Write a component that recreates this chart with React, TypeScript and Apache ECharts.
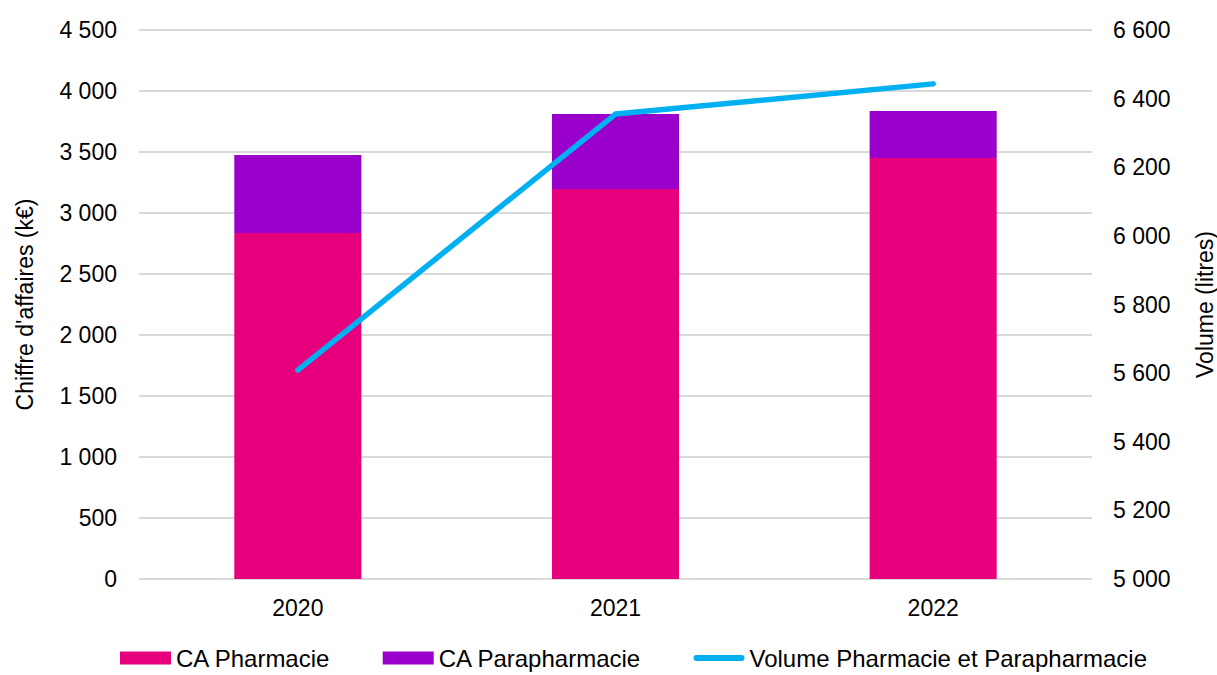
import React, { useEffect, useRef } from "react";
import * as echarts from "echarts";

const years = ["2020", "2021", "2022"];
const caPharmacie = [2836, 3197, 3451];
const caParapharmacie = [639, 614, 385];
const volume = [5609, 6355, 6443];

const fmt = (v: number) => String(v).replace(/\B(?=(\d{3})+(?!\d))/g, " ");
const FONT = "Liberation Sans, Arial, sans-serif";
const FS = 23;

export default function App() {
  const ref = useRef<HTMLDivElement>(null);
  useEffect(() => {
    const chart = echarts.init(ref.current!, undefined, { renderer: "svg" });
    chart.setOption({
      animation: false,
      textStyle: { fontFamily: FONT },
      grid: { left: 139, right: 125, top: 30, bottom: 96, outerBoundsMode: "none", containLabel: false },
      legend: {
        bottom: 0,
        left: 115,
        itemWidth: 51,
        itemHeight: 13,
        itemGap: 52,
        textStyle: { fontSize: 24, color: "#000", fontFamily: FONT },
        data: [
          { name: "CA Pharmacie", icon: "rect" },
          { name: "CA Parapharmacie", icon: "rect" },
          {
            name: "Volume Pharmacie et Parapharmacie",
            icon: "path://M0,0 M51,13 M3,3.5 L48,3.5 A3,3 0 0 1 48,9.5 L3,9.5 A3,3 0 0 1 3,3.5 Z",
            itemStyle: { color: "#00B0F0" },
          },
        ],
      },
      xAxis: {
        type: "category",
        data: years,
        axisLine: { show: false },
        axisTick: { show: false },
        axisLabel: { fontSize: FS, color: "#000", margin: 17, fontFamily: FONT },
      },
      yAxis: [
        {
          type: "value",
          min: 0,
          max: 4500,
          interval: 500,
          name: "Chiffre d'affaires (k€)",
          nameLocation: "middle",
          nameGap: 103,
          nameTextStyle: { fontSize: FS, color: "#000", fontFamily: FONT },
          axisLabel: { fontSize: FS, color: "#000", margin: 22, formatter: fmt, fontFamily: FONT },
          splitLine: { lineStyle: { color: "#D9D9D9", width: 2 } },
          axisLine: { show: false },
          axisTick: { show: false },
        },
        {
          type: "value",
          min: 5000,
          max: 6600,
          interval: 200,
          name: "Volume (litres)",
          nameLocation: "middle",
          nameGap: 101,
          nameRotate: 90,
          nameTextStyle: { fontSize: FS, color: "#000", fontFamily: FONT },
          axisLabel: { fontSize: FS, color: "#000", margin: 21, formatter: fmt, fontFamily: FONT },
          splitLine: { show: false },
          axisLine: { show: false },
          axisTick: { show: false },
        },
      ],
      series: [
        {
          name: "CA Pharmacie",
          type: "bar",
          stack: "ca",
          data: caPharmacie,
          barWidth: "40%",
          itemStyle: { color: "#E6007E" },
        },
        {
          name: "CA Parapharmacie",
          type: "bar",
          stack: "ca",
          data: caParapharmacie,
          barWidth: "40%",
          itemStyle: { color: "#9900CC" },
        },
        {
          name: "Volume Pharmacie et Parapharmacie",
          type: "line",
          yAxisIndex: 1,
          data: volume,
          symbol: "none",
          lineStyle: { color: "#00B0F0", width: 5.5, cap: "round", join: "round" },
          itemStyle: { color: "#00B0F0" },
        },
      ],
    });
    return () => chart.dispose();
  }, []);
  return <div ref={ref} style={{ width: 1217, height: 675, position: "absolute", left: 0, top: 0 }} />;
}
